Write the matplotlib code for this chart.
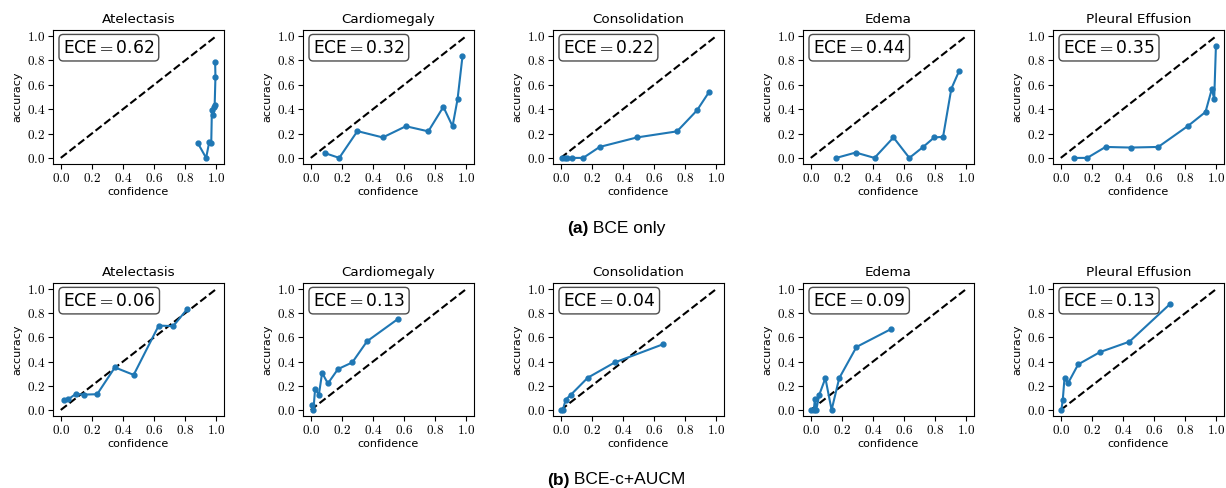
import matplotlib
matplotlib.use("Agg")
import matplotlib.pyplot as plt
from matplotlib.ticker import FuncFormatter

plt.rcParams["mathtext.fontset"] = "cm"
plt.rcParams["font.family"] = "DejaVu Sans"

diseases = ["Atelectasis", "Cardiomegaly", "Consolidation", "Edema", "Pleural Effusion"]

# (a) BCE only
bce_conf = [
    [0.88, 0.935, 0.955, 0.968, 0.972, 0.982, 0.988, 0.990, 0.995, 0.993],
    [0.09, 0.183, 0.30, 0.463, 0.612, 0.756, 0.853, 0.912, 0.944, 0.976],
    [0.01, 0.025, 0.04, 0.072, 0.144, 0.25, 0.49, 0.748, 0.876, 0.955],
    [0.164, 0.289, 0.41, 0.532, 0.634, 0.723, 0.794, 0.851, 0.904, 0.953],
    [0.086, 0.17, 0.288, 0.449, 0.627, 0.82, 0.931, 0.972, 0.987, 0.998],
]
bce_acc = [
    [0.125, 0.0, 0.13, 0.125, 0.39, 0.35, 0.42, 0.435, 0.665, 0.785],
    [0.04, 0.0, 0.22, 0.168, 0.26, 0.218, 0.419, 0.26, 0.48, 0.835],
    [0.0, 0.0, 0.0, 0.0, 0.0, 0.09, 0.168, 0.218, 0.39, 0.543],
    [0.0, 0.044, 0.0, 0.168, 0.0, 0.09, 0.168, 0.173, 0.567, 0.71],
    [0.0, 0.0, 0.09, 0.085, 0.09, 0.264, 0.377, 0.567, 0.48, 0.917],
]
bce_ece = [0.62, 0.32, 0.22, 0.44, 0.35]

# (b) BCE-c+AUCM
auc_conf = [
    [0.019, 0.049, 0.097, 0.148, 0.234, 0.348, 0.469, 0.63, 0.723, 0.815],
    [0.006, 0.017, 0.028, 0.052, 0.073, 0.11, 0.175, 0.267, 0.362, 0.558],
    [0.003, 0.013, 0.032, 0.066, 0.173, 0.347, 0.657],
    [0.004, 0.02, 0.026, 0.035, 0.055, 0.094, 0.134, 0.183, 0.294, 0.515],
    [0.004, 0.013, 0.024, 0.047, 0.112, 0.253, 0.442, 0.702],
]
auc_acc = [
    [0.086, 0.089, 0.133, 0.127, 0.13, 0.352, 0.29, 0.698, 0.693, 0.837],
    [0.044, 0.0, 0.175, 0.125, 0.307, 0.219, 0.338, 0.393, 0.568, 0.75],
    [0.0, 0.0, 0.086, 0.127, 0.266, 0.393, 0.543],
    [0.0, 0.0, 0.089, 0.0, 0.127, 0.263, 0.0, 0.263, 0.521, 0.668],
    [0.0, 0.086, 0.263, 0.222, 0.377, 0.479, 0.565, 0.875],
]
auc_ece = [0.06, 0.13, 0.04, 0.09, 0.13]

W, H = 1226, 488
fig = plt.figure(figsize=(W / 100, H / 100), dpi=100)

lefts = [53, 303, 553, 803, 1053]
rows = [(30, 164, bce_conf, bce_acc, bce_ece), (283, 416, auc_conf, auc_acc, auc_ece)]
ticks = [0.0, 0.2, 0.4, 0.6, 0.8, 1.0]
fmt = FuncFormatter(lambda v, p: "$%.1f$" % v)

for top, bot, confs, accs, eces in rows:
    for i, name in enumerate(diseases):
        ax = fig.add_axes([lefts[i] / W, 1 - bot / H, 171 / W, (bot - top) / H])
        ax.plot([0, 1], [0, 1], "k--", lw=1.5)
        ax.plot(confs[i], accs[i], "-o", color="#1f77b4", lw=1.5, ms=3.5)
        ax.set_xticks(ticks)
        ax.set_yticks(ticks)
        ax.xaxis.set_major_formatter(fmt)
        ax.yaxis.set_major_formatter(fmt)
        ax.tick_params(labelsize=9.5, length=3.5, pad=2)
        ax.set_xlim(-0.05, 1.05)
        ax.set_ylim(-0.05, 1.05)
        ax.set_title(name, fontsize=9.7, pad=5)
        ax.set_xlabel("confidence", fontsize=8, labelpad=2)
        ax.set_ylabel("accuracy", fontsize=8, labelpad=3)
        ax.text(0.06, 0.935, "ECE$=$%.2f" % eces[i], transform=ax.transAxes,
                fontsize=12.3, va="top", ha="left",
                bbox=dict(boxstyle="round,pad=0.25", fc="white", ec="0.3", lw=1))

# sub-figure captions: bold tag + normal text, centred as a whole
cap_font = "Liberation Sans"
renderer = fig.canvas.get_renderer()
for tag, label, ypix in [("(a)", "BCE only", 229), ("(b)", "BCE-c+AUCM", 480)]:
    t1 = fig.text(0, 1 - ypix / H, tag, fontsize=12.5, fontweight="bold",
                  ha="left", va="center", family=cap_font)
    t2 = fig.text(0, 1 - ypix / H, " " + label, fontsize=12.5,
                  ha="left", va="center", family=cap_font)
    w1 = t1.get_window_extent(renderer).width
    w2 = t2.get_window_extent(renderer).width
    x0 = 616 - (w1 + w2) / 2
    t1.set_x(x0 / W)
    t2.set_x((x0 + w1) / W)

fig.savefig("out.png", dpi=100)
